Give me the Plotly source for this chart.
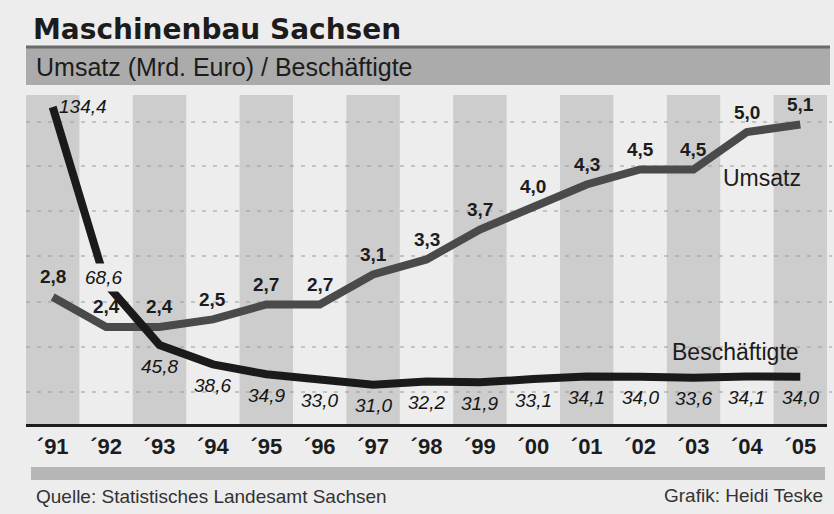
import plotly.graph_objects as go

# ---------------- data ----------------
years = ["´91", "´92", "´93", "´94", "´95", "´96", "´97", "´98",
         "´99", "´00", "´01", "´02", "´03", "´04", "´05"]
umsatz = [2.8, 2.4, 2.4, 2.5, 2.7, 2.7, 3.1, 3.3, 3.7, 4.0, 4.3, 4.5, 4.5, 5.0, 5.1]
beschaeftigte = [134.4, 68.6, 45.8, 38.6, 34.9, 33.0, 31.0, 32.2, 31.9, 33.1,
                 34.1, 34.0, 33.6, 34.1, 34.0]

title = "Maschinenbau Sachsen"
subtitle = "Umsatz (Mrd. Euro) / Beschäftigte"
source = "Quelle: Statistisches Landesamt Sachsen"
credit = "Grafik: Heidi Teske"

# ---------------- layout helpers ----------------
W, H = 834, 514
L, R, T, B = 26, 7, 95, 90
PW, PH = W - L - R, H - T - B


def px(xp):
    return (xp - L) / PW


def py(yp):
    return (H - B - yp) / PH


BG = "#ededed"
STRIPE = "#cdcdcd"
DARK = "#1c1c1c"
UMS_COL = "#4a4a4a"
BES_COL = "#1a1a1a"
SANS = "Liberation Sans, Arial, sans-serif"


def fmt(v):
    return f"{v:.1f}".replace(".", ",")


fig = go.Figure()

fig.add_trace(go.Scatter(
    x=years, y=umsatz, mode="lines", yaxis="y",
    line=dict(color=UMS_COL, width=8), hoverinfo="skip", showlegend=False))
fig.add_trace(go.Scatter(
    x=years, y=beschaeftigte, mode="lines", yaxis="y2",
    line=dict(color=BES_COL, width=8), hoverinfo="skip", showlegend=False))

shapes = []
# alternating column stripes
for i in range(0, len(years), 2):
    shapes.append(dict(type="rect", xref="x", yref="paper", x0=i - 0.5, x1=i + 0.5,
                       y0=0, y1=1, fillcolor=STRIPE, line=dict(width=0), layer="below"))
# dashed guide lines
for gy in [392, 347, 302, 256, 211, 166, 122]:
    shapes.append(dict(type="line", xref="paper", yref="paper", x0=0, x1=px(832),
                       y0=py(gy), y1=py(gy), line=dict(color="#9a9a9a", width=1, dash="4px,7px"),
                       layer="below"))
# subtitle band
shapes.append(dict(type="rect", xref="paper", yref="paper", x0=px(26), x1=px(830),
                   y0=py(85), y1=py(48), fillcolor="#ababab", line=dict(width=0)))
shapes.append(dict(type="line", xref="paper", yref="paper", x0=px(26), x1=px(830),
                   y0=py(47), y1=py(47), line=dict(color="#6a6a6a", width=3)))
# footer band
shapes.append(dict(type="rect", xref="paper", yref="paper", x0=px(31), x1=px(825),
                   y0=py(480), y1=py(467), fillcolor="#b6b6b6", line=dict(width=0)))

annotations = []
# Umsatz value labels (bold, above line)
for x, v in zip(years, umsatz):
    annotations.append(dict(x=x, y=v, xref="x", yref="y", text=fmt(v), showarrow=False,
                            yanchor="middle", yshift=20,
                            font=dict(family=SANS, size=19, color=DARK, weight="bold")))
# Beschäftigte labels (italic, below line)
for i, (x, v) in enumerate(zip(years, beschaeftigte)):
    a = dict(x=x, y=v, xref="x", yref="y2", text=fmt(v), showarrow=False,
             font=dict(family=SANS, size=19, color="#141414", style="italic"))
    if i == 0:
        a.update(xanchor="left", yanchor="middle", xshift=4, yshift=1)
    elif i == 1:
        a.update(xanchor="center", yanchor="middle", xshift=-3, yshift=6,
                 bgcolor=BG, borderpad=3)
    else:
        a.update(xanchor="center", yanchor="middle", yshift=-21)
    annotations.append(a)

# series names
annotations.append(dict(x=px(762), y=py(178), xref="paper", yref="paper", text="Umsatz",
                        showarrow=False, xanchor="center", yanchor="middle",
                        font=dict(family=SANS, size=23, color=DARK)))
annotations.append(dict(x=px(735), y=py(352), xref="paper", yref="paper", text="Beschäftigte",
                        showarrow=False, xanchor="center", yanchor="middle",
                        font=dict(family=SANS, size=23, color=DARK)))
# title block
annotations.append(dict(x=px(31), y=py(29), xref="paper", yref="paper", text=title,
                        showarrow=False, xanchor="left", yanchor="middle",
                        font=dict(family="DejaVu Sans, sans-serif", size=28, color=DARK,
                                  weight="bold")))
annotations.append(dict(x=px(34), y=py(67), xref="paper", yref="paper", text=subtitle,
                        showarrow=False, xanchor="left", yanchor="middle",
                        font=dict(family=SANS, size=25, color=DARK)))
# footer
annotations.append(dict(x=px(34), y=py(497), xref="paper", yref="paper", text=source,
                        showarrow=False, xanchor="left", yanchor="middle",
                        font=dict(family=SANS, size=19, color="#333333")))
annotations.append(dict(x=px(825), y=py(495), xref="paper", yref="paper", text=credit,
                        showarrow=False, xanchor="right", yanchor="middle",
                        font=dict(family=SANS, size=19, color="#333333")))

fig.update_layout(
    width=W, height=H,
    margin=dict(l=L, r=R, t=T, b=B),
    paper_bgcolor=BG, plot_bgcolor="rgba(0,0,0,0)",
    showlegend=False,
    xaxis=dict(type="category", range=[-0.5, len(years) - 0.5], showgrid=False,
               zeroline=False, showline=True, linewidth=3, linecolor=DARK,
               ticks="outside", ticklen=1, tickcolor="rgba(0,0,0,0)",
               tickfont=dict(family=SANS, size=22, color=DARK, weight="bold"),
               fixedrange=True),
    yaxis=dict(range=[1.105, 5.494], visible=False, showgrid=False, zeroline=False),
    yaxis2=dict(range=[16.39, 138.87], overlaying="y", visible=False,
                showgrid=False, zeroline=False),
    shapes=shapes,
    annotations=annotations,
)

fig.write_html("out.html",
               config={"displayModeBar": False, "staticPlot": True},
               post_script="document.body.style.margin='0';document.body.style.overflow='hidden';")
